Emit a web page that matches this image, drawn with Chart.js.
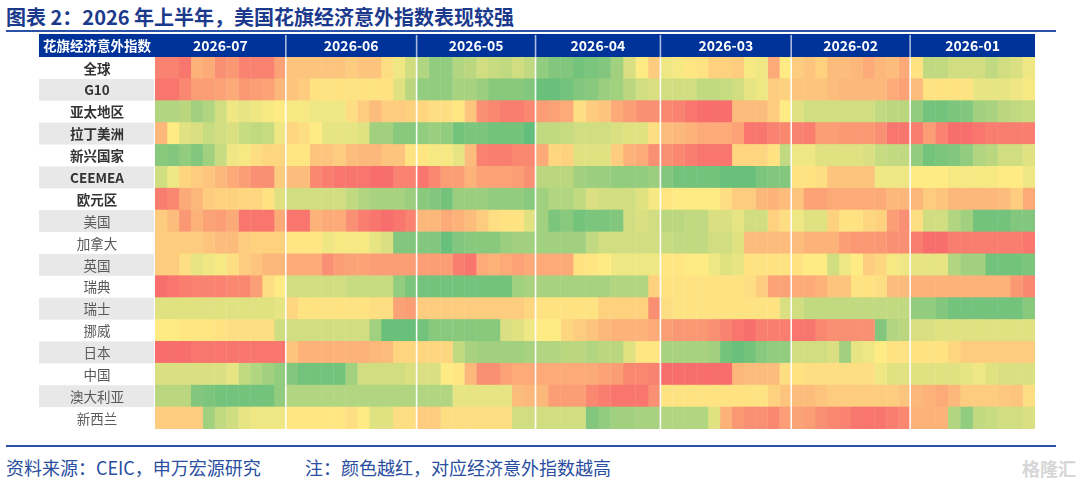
<!DOCTYPE html>
<html><head><meta charset="utf-8">
<script src="https://cdn.jsdelivr.net/npm/chart.js@4/dist/chart.umd.min.js"></script>
<style>
html,body{margin:0;padding:0;background:#fff;}
#wrap{position:relative;width:1080px;height:484px;overflow:hidden;font-family:"Noto Sans CJK SC","Noto Sans",sans-serif;}
#title{position:absolute;left:6px;top:3px;font-size:20px;font-weight:bold;color:#1c3a8c;white-space:nowrap;line-height:28px;}
.rule{position:absolute;left:6px;width:1050px;height:2px;background:#2a52a8;}
#hdr{position:absolute;left:39px;top:34px;width:116px;height:23px;line-height:23px;text-align:center;color:#fff;font-weight:bold;font-size:13.5px;z-index:2;white-space:nowrap;}
.foot{position:absolute;top:454px;font-size:18px;line-height:26px;color:#2a4ea0;white-space:nowrap;}
#wm{position:absolute;left:1022px;top:455px;font-size:18px;line-height:26px;font-weight:bold;color:#d6d6d6;}
canvas{position:absolute;left:0;top:0;z-index:1;}
</style></head>
<body><div id="wrap">
<div id="title">图表 2：2026 年上半年，美国花旗经济意外指数表现较强</div>
<div class="rule" style="top:30px"></div>
<canvas id="c" width="1080" height="484"></canvas>
<div id="hdr">花旗经济意外指数</div>
<div class="rule" style="top:445px"></div>
<div class="foot" style="left:6px">资料来源：CEIC，申万宏源研究</div>
<div class="foot" style="left:305px">注：颜色越红，对应经济意外指数越高</div>
<div id="wm">格隆汇</div>
</div>
<script>
const rows = ['全球','G10','亚太地区','拉丁美洲','新兴国家','CEEMEA','欧元区','美国','加拿大','英国','瑞典','瑞士','挪威','日本','中国','澳大利亚','新西兰'];
const boldRows = 7;
const monthLabels = ['2026-07','2026-06','2026-05','2026-04','2026-03','2026-02','2026-01'];
const monthDays = [22,22,20,21,22,20,21];
const monthCols = [11,11,10,10,11,10,10];

const s_global = [40,40,45,22,25,35,32,40,40,40,28, 15,15,15,15,15,12,15,15,5,-5,-15, -25,-35,-35,-25,-22,-15,-18,-20,-15,-20, -35,-40,-40,-45,-42,-40,-30,-12,0,12, -5,-3,2,3,10,10,12,-3,-5,25,0, 12,15,10,18,18,20,25,20,18,25, 3,-20,-20,-15,-15,-15,-20,-15,-12,-5];
const s_g10 = [45,45,38,30,30,28,25,32,30,28,20, 15,12,3,3,3,3,3,3,3,-10,-22, -35,-35,-35,-28,-28,-32,-38,-38,-38,-40, -48,-48,-45,-40,-38,-32,-30,-22,-15,-12, -15,-15,-15,-20,-20,-18,-15,-8,-5,12,10, 15,15,15,18,20,20,20,20,25,28, 18,3,3,3,3,-8,-8,-8,-5,-3];
const s_apac = [-25,-25,-22,-30,-25,-15,-5,-8,-5,-3,0, -3,-3,-5,-5,-5,5,12,18,12,12,10, 8,5,5,2,15,35,38,42,42,38, 30,28,25,5,12,15,25,30,35,35, 38,40,45,48,48,48,18,18,18,12,0, -10,-15,-15,-15,-15,-15,-15,-20,-22,-22, -35,-45,-45,-42,-40,-30,-28,-22,-20,-18];
const s_latam = [20,0,-10,-12,-18,-15,-12,-18,-20,-18,-5, 8,5,0,-8,-8,-8,-10,-30,-30,-38,-38, -35,-32,-35,-45,-42,-42,-45,-45,-45,-50, -20,-20,-18,-15,-15,-15,-12,-10,-10,5, 18,20,22,25,25,25,28,45,45,40,38, 40,42,30,30,32,32,32,35,45,45, 42,30,40,48,48,45,42,42,42,42];
const s_em = [-38,-40,-35,-40,-30,-18,-5,-3,5,8,8, 2,2,15,15,12,18,20,20,15,15,3, 2,-3,-3,-8,18,40,42,42,38,38, 25,8,10,-10,-10,-10,12,22,25,35, 35,38,42,45,45,45,8,8,8,3,-20, -5,-5,-10,-10,-10,-10,-12,-18,-20,-20, -35,-45,-42,-40,-35,-25,-22,-15,-15,-10];
const s_ceemea = [-15,-5,8,12,15,20,25,30,35,35,12, 18,18,38,42,45,45,45,48,48,40,40, 45,38,30,30,22,28,28,28,30,35, -22,-22,-22,-30,-32,-32,-35,-35,-35,-32, -40,-45,-45,-45,-45,-48,-48,-48,-42,-40,-40, 3,3,5,15,15,15,15,-5,-5,-5, 0,0,0,-3,-3,-3,-3,0,0,-5];
const s_euro = [42,38,25,20,12,10,10,8,8,3,-10, -15,-15,-15,-15,-15,-20,-25,-28,-28,-28,-32, -38,-40,-45,-32,-32,-32,-35,-35,-35,-38, -30,-25,-25,-20,-12,-15,-15,-15,-10,-3, 2,0,0,0,0,5,12,12,20,22,18, 15,28,28,25,25,25,25,25,20,20, 20,12,15,20,20,20,20,18,12,25];
const s_us = [12,18,32,22,28,30,25,45,45,45,25, 45,45,22,25,25,35,42,45,48,45,40, 20,20,25,22,18,12,5,3,3,-10, -30,-42,-38,-45,-42,-42,-40,-15,-12,-15, -22,-22,-20,-20,-12,-12,-8,-15,-15,10,5, -5,-10,-10,10,3,3,8,10,30,35, 5,-15,-15,-25,-30,-45,-45,-45,-40,-40];
const s_ca = [12,12,12,12,15,18,18,12,10,10,10, 2,2,2,-5,-3,-3,-3,-8,-12,-40,-40, -40,-40,-48,-40,-38,-38,-38,-32,-30,-30, -30,-30,-30,-30,-20,-15,-15,-15,-15,-15, -18,-20,-20,-20,-15,-15,-10,18,18,18,18, 18,22,22,22,30,32,32,32,35,35, 42,48,48,42,42,42,42,42,42,45];
const s_uk = [12,12,5,-8,-5,-3,5,12,15,20,20, 25,25,25,35,30,28,28,30,30,30,30, 30,30,30,42,45,25,22,25,28,25, 25,25,25,3,2,0,-5,-5,-5,-5, 2,2,0,0,-5,-10,-8,3,3,3,3, 3,0,0,-15,-5,0,12,8,-3,-5, -8,-8,-8,-25,-30,-30,-45,-45,-45,-42];
const s_se = [48,45,42,40,40,40,38,38,30,5,0, -15,-15,-15,-15,-15,-18,-18,-18,-18,-35,-42, -45,-45,-45,-45,-45,-45,-45,-45,-30,-28, -28,-28,-28,-28,-28,-28,-25,-25,-25,10, 3,3,3,3,3,3,3,5,12,28,28, 25,25,22,15,15,3,3,5,18,18, 22,22,22,22,22,22,22,22,32,38];
const s_ch = [-10,-10,-10,-10,-10,-10,-10,-10,-10,-10,-8, 8,3,3,3,3,3,3,5,5,28,30, 12,12,12,12,12,12,12,12,12,8, 3,3,3,3,3,10,10,10,10,35, 5,3,3,3,3,3,3,3,3,3,-12, -15,-20,-20,-20,-20,-20,-20,-20,-20,-20, -35,-35,-40,-45,-45,-45,-45,-45,-45,-38];
const s_no = [0,0,2,2,2,3,5,5,5,5,-15, -15,-15,-15,-15,-15,-15,-15,-30,-48,-48,-48, -45,-38,-38,-38,-38,-38,-38,-12,-10,-5, 0,0,8,12,15,20,22,22,22,25, 30,32,32,32,35,40,45,48,42,42,42, 45,45,38,35,35,35,35,-40,-25,-22, -12,-12,-10,-10,-10,-10,-10,-10,-10,-10];
const s_jp = [48,48,48,45,45,45,45,45,45,45,45, 15,22,22,22,22,22,22,20,18,8,8, 8,8,8,-20,-28,-30,-30,-30,-30,-28, -25,-25,-22,-22,-25,-22,-22,-10,2,2, -28,-28,-28,-28,-30,-45,-48,-45,-38,-35,-35, -15,-15,-15,-12,-30,-8,-5,0,3,3, 3,3,3,8,12,12,12,12,12,12];
const s_cn = [-12,-12,-12,-12,-12,-12,-8,-20,-25,-30,-35, -40,-45,-45,-45,-45,-30,-15,-15,-15,-15,-12, -12,-12,0,2,20,35,35,28,25,25, 25,25,25,25,25,28,30,38,38,40, 48,48,48,48,48,48,20,18,18,18,5, 3,5,5,5,5,5,5,-5,-10,-10, -10,-10,-10,-10,-8,-5,-10,-12,-12,-12];
const s_au = [-22,-22,-22,-40,-42,-45,-45,-45,-45,-45,-35, -25,-25,-25,-25,-25,-25,-25,-25,-25,-25,-25, -25,-25,-25,-8,-8,-8,-8,-8,18,20, 20,30,30,30,38,42,45,45,45,35, 3,3,3,3,3,3,3,3,3,10,15, 18,18,15,12,12,12,12,12,12,15, 20,22,25,20,12,12,12,14,15,5];
const s_nz = [12,12,12,12,-30,-20,-15,-8,-5,-5,-5, 2,2,2,2,2,5,0,-10,-10,5,5, 12,12,5,5,5,5,5,5,-15,-15, -15,-15,-15,-15,-40,-35,-30,-30,-28,-28, -25,-25,-25,-25,-10,22,32,35,35,38,30, 28,30,35,38,40,45,45,45,42,38, 22,22,22,-25,-35,-20,-18,-15,-15,-12];

const series = [s_global,s_g10,s_apac,s_latam,s_em,s_ceemea,s_euro,s_us,s_ca,s_uk,s_se,s_ch,s_no,s_jp,s_cn,s_au,s_nz];

const GREEN=[99,190,123], YELLOW=[255,235,132], RED=[248,105,107];
function colorFor(v){
  let a,b,t;
  if(v<=0){a=GREEN;b=YELLOW;t=Math.max(0,(v+50)/50);} else {a=YELLOW;b=RED;t=Math.min(1,v/50);}
  const c=a.map((x,i)=>Math.round(x+(b[i]-x)*t));
  return 'rgb('+c.join(',')+')';
}

const totalDays = monthDays.reduce((s,d)=>s+d,0);
const datasets=[];
let start=0, col=0;
monthDays.forEach((d,m)=>{
  const n=monthCols[m];
  for(let k=0;k<n;k++){
    const x0=start+k*d/n, x1=start+(k+1)*d/n;
    const j=col;
    datasets.push({
      data: rows.map(()=>[x0, Math.min(totalDays, x1+0.06)]),
      backgroundColor: series.map(s=>colorFor(s[j])),
      borderWidth:0, borderSkipped:false,
      grouped:false, barPercentage:1.04, categoryPercentage:1
    });
    col++;
  }
  start+=d;
});

const heatPlugin={
  id:'heat',
  beforeDatasetsDraw(chart){
    const {ctx, chartArea:a, scales:{x,y}}=chart;
    ctx.save();
    ctx.fillStyle='#003399';
    ctx.fillRect(y.left, x.top, a.right-y.left, a.top-x.top);
    const h=y.getPixelForValue(1)-y.getPixelForValue(0);
    rows.forEach((r,i)=>{
      if(i%2===1){
        ctx.fillStyle='#e8e8e8';
        ctx.fillRect(y.left, y.getPixelForValue(i)-h/2, a.left-y.left-1, h);
      }
    });
    ctx.restore();
  },
  afterDatasetsDraw(chart){
    const {ctx, chartArea:a, scales:{x,y}}=chart;
    ctx.save();
    let acc=0;
    for(let i=0;i<monthDays.length-1;i++){
      acc+=monthDays[i];
      const px=x.getPixelForValue(acc);
      ctx.strokeStyle='rgba(255,255,255,0.95)';
      ctx.lineWidth=1.6;
      ctx.beginPath(); ctx.moveTo(px,a.top); ctx.lineTo(px,a.bottom); ctx.stroke();
      ctx.strokeStyle='rgba(200,210,235,0.85)';
      ctx.beginPath(); ctx.moveTo(px,x.top+1); ctx.lineTo(px,a.top); ctx.stroke();
    }
    ctx.fillStyle='#ffffff';
    ctx.font='bold 14px "Noto Sans CJK SC","Noto Sans",sans-serif';
    ctx.textAlign='center'; ctx.textBaseline='middle';
    acc=0;
    monthLabels.forEach((m,i)=>{
      const c=acc+monthDays[i]/2; acc+=monthDays[i];
      ctx.fillText(m, x.getPixelForValue(c), (x.top+a.top)/2+0.5);
    });
    const cx=(y.left+a.left)/2;
    rows.forEach((r,i)=>{
      if(i<boldRows){ctx.font='bold 13.5px "Noto Sans CJK SC","Noto Sans",sans-serif'; ctx.fillStyle='#333333';}
      else {ctx.font='13.5px "Noto Sans CJK SC","Noto Sans",sans-serif'; ctx.fillStyle='#595959';}
      ctx.fillText(r, cx, y.getPixelForValue(i)+0.5);
    });
    ctx.restore();
  }
};

new Chart(document.getElementById('c'),{
  type:'bar',
  data:{labels:rows, datasets},
  options:{
    indexAxis:'y', responsive:false, animation:false,
    layout:{padding:{left:39,right:45,top:34,bottom:55}},
    plugins:{legend:{display:false}, tooltip:{enabled:false}},
    scales:{
      x:{type:'linear', position:'top', min:0, max:totalDays,
         grid:{display:false,drawTicks:false}, border:{display:false},
         ticks:{display:false}, afterFit(s){s.height=23;}},
      y:{type:'category', grid:{display:false,drawTicks:false}, border:{display:false},
         ticks:{display:false}, afterFit(s){s.width=116;}}
    }
  },
  plugins:[heatPlugin]
});
</script>
</body></html>
